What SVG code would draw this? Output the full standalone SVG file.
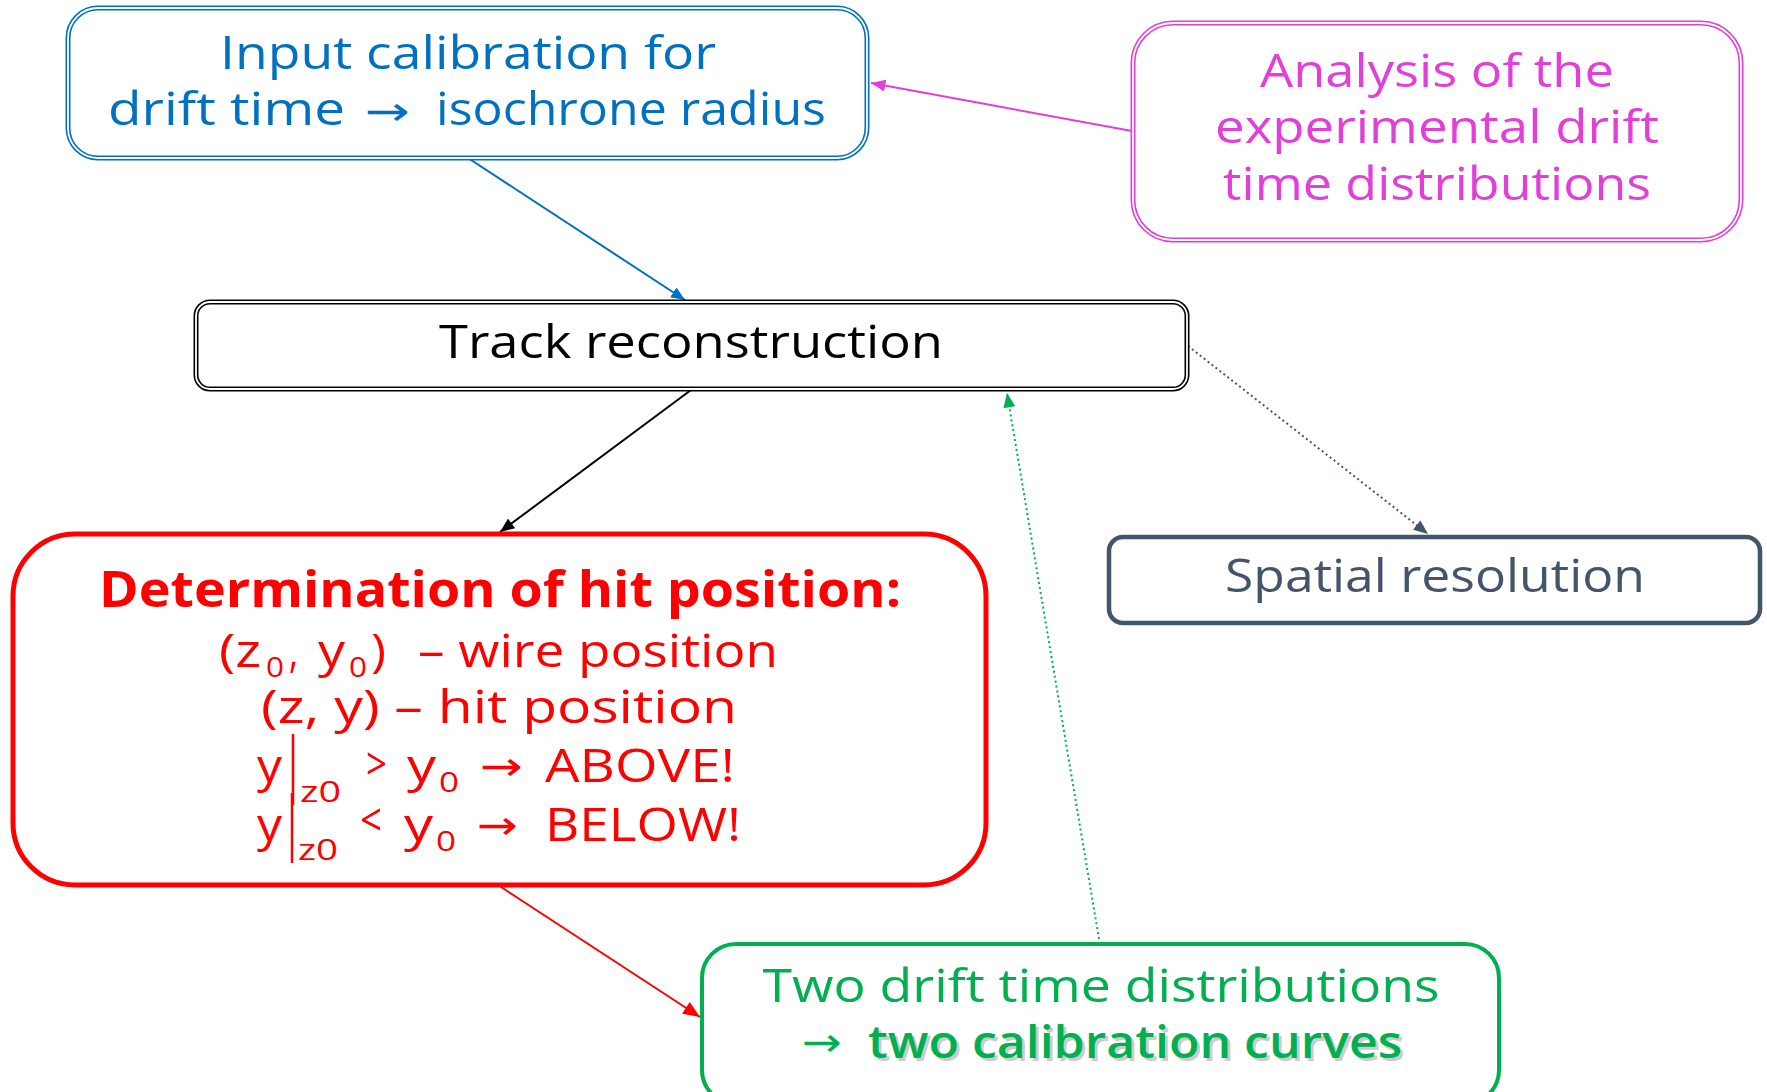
<svg xmlns="http://www.w3.org/2000/svg" width="1767" height="1092" viewBox="0 0 1767 1092">
  <style>
    text { font-family: "Open Sans", "Noto Sans", sans-serif; }
    .arr { font-family: "DejaVu Sans", sans-serif; }
    .blue { fill: #0070C0; }
    .mag { fill: #E23ED8; }
    .red { fill: #FF0000; }
    .green { fill: #00B050; }
    .slate { fill: #44546A; }
    .blk { fill: #000000; }
    .dblOuter { fill: #ffffff; stroke-width: 5; }
    .dblInner { fill: none; stroke: #ffffff; stroke-width: 1.8; }
    .conn { fill: none; stroke-width: 2; }
  </style>
  <defs>
    <marker id="ahBlue" viewBox="0 0 12 10" refX="12" refY="5" markerWidth="14" markerHeight="12" markerUnits="userSpaceOnUse" orient="auto">
      <path d="M0,0 L12,5 L0,10 Z" fill="#0070C0"/>
    </marker>
    <marker id="ahMag" viewBox="0 0 12 10" refX="12" refY="5" markerWidth="15" markerHeight="12" markerUnits="userSpaceOnUse" orient="auto">
      <path d="M0,0 L12,5 L0,10 Z" fill="#E23ED8"/>
    </marker>
    <marker id="ahBlk" viewBox="0 0 12 10" refX="12" refY="5" markerWidth="15" markerHeight="12" markerUnits="userSpaceOnUse" orient="auto">
      <path d="M0,0 L12,5 L0,10 Z" fill="#000000"/>
    </marker>
    <marker id="ahRed" viewBox="0 0 12 10" refX="12" refY="5" markerWidth="18" markerHeight="14" markerUnits="userSpaceOnUse" orient="auto">
      <path d="M0,0 L12,5 L0,10 Z" fill="#FF0000"/>
    </marker>
    <marker id="ahGreen" viewBox="0 0 12 10" refX="12" refY="5" markerWidth="15" markerHeight="12" markerUnits="userSpaceOnUse" orient="auto">
      <path d="M0,0 L12,5 L0,10 Z" fill="#00B050"/>
    </marker>
    <marker id="ahSlate" viewBox="0 0 12 10" refX="12" refY="5" markerWidth="15" markerHeight="12" markerUnits="userSpaceOnUse" orient="auto">
      <path d="M0,0 L12,5 L0,10 Z" fill="#44546A"/>
    </marker>
  </defs>

  <rect width="1767" height="1092" fill="#ffffff"/>

  <!-- connectors -->
  <g id="connectors">
    <line class="conn" x1="468" y1="158" x2="685" y2="300" stroke="#0070C0" marker-end="url(#ahBlue)"/>
    <line class="conn" x1="1132" y1="131" x2="871" y2="83" stroke="#E23ED8" marker-end="url(#ahMag)"/>
    <line class="conn" x1="691" y1="390" x2="500" y2="532" stroke="#000000" marker-end="url(#ahBlk)"/>
    <line class="conn" x1="501" y1="887" x2="700" y2="1017" stroke="#FF0000" stroke-width="2.4" marker-end="url(#ahRed)"/>
    <line class="conn" x1="1099" y1="939" x2="1007" y2="393" stroke="#00B050" stroke-dasharray="2 3" marker-end="url(#ahGreen)"/>
    <line class="conn" x1="1188" y1="346" x2="1428" y2="534" stroke="#44546A" stroke-dasharray="2 3" marker-end="url(#ahSlate)"/>
  </g>

  <!-- calibration input -->
  <g id="input-calibration">
    <rect class="dblOuter" x="68" y="8" width="799" height="150" rx="30" stroke="#0070C0"/>
    <rect class="dblInner" x="68" y="8" width="799" height="150" rx="30"/>
    <text class="blue" x="468" y="69" font-size="46" text-anchor="middle" textLength="496" lengthAdjust="spacingAndGlyphs">Input calibration for</text>
    <text class="blue" font-size="46">
      <tspan x="108" y="125" textLength="237" lengthAdjust="spacingAndGlyphs">drift time</tspan>
      <tspan class="arr" x="365" y="125" font-size="40" textLength="45" lengthAdjust="spacingAndGlyphs">→</tspan>
      <tspan x="436" y="125" textLength="390" lengthAdjust="spacingAndGlyphs">isochrone radius</tspan>
    </text>
  </g>

  <!-- drift time analysis -->
  <g id="analysis">
    <rect class="dblOuter" x="1133" y="23" width="608" height="217" rx="40" stroke="#E23ED8"/>
    <rect class="dblInner" x="1133" y="23" width="608" height="217" rx="40"/>
    <text class="mag" x="1437" y="87" font-size="45" text-anchor="middle" textLength="354" lengthAdjust="spacingAndGlyphs">Analysis of the</text>
    <text class="mag" x="1437" y="143" font-size="45" text-anchor="middle" textLength="444" lengthAdjust="spacingAndGlyphs">experimental drift</text>
    <text class="mag" x="1437" y="200" font-size="45" text-anchor="middle" textLength="428" lengthAdjust="spacingAndGlyphs">time distributions</text>
  </g>

  <!-- track reconstruction -->
  <g id="track-reconstruction">
    <rect class="dblOuter" x="196" y="302" width="991" height="87" rx="14" stroke="#000000"/>
    <rect class="dblInner" x="196" y="302" width="991" height="87" rx="14"/>
    <text class="blk" x="691" y="358" font-size="46" text-anchor="middle" textLength="504" lengthAdjust="spacingAndGlyphs">Track reconstruction</text>
  </g>

  <!-- hit position -->
  <g id="hit-position">
    <rect x="13" y="534" width="973" height="351" rx="62" fill="#ffffff" stroke="#FF0000" stroke-width="5"/>
    <text class="red" x="500" y="607" font-size="50" font-weight="bold" text-anchor="middle" textLength="802" lengthAdjust="spacingAndGlyphs">Determination of hit position:</text>

    <!-- wire position with subscripts -->
    <text class="red" font-size="46">
      <tspan x="219" y="667" textLength="42" lengthAdjust="spacingAndGlyphs">(z</tspan>
      <tspan x="266" y="677" font-size="28" textLength="18" lengthAdjust="spacingAndGlyphs">0</tspan>
      <tspan x="289" y="667" textLength="9" lengthAdjust="spacingAndGlyphs">,</tspan>
      <tspan x="318" y="667" textLength="27" lengthAdjust="spacingAndGlyphs">y</tspan>
      <tspan x="349" y="677" font-size="28" textLength="18" lengthAdjust="spacingAndGlyphs">0</tspan>
      <tspan x="371" y="667" textLength="15" lengthAdjust="spacingAndGlyphs">)</tspan>
      <tspan x="418" y="667" textLength="360" lengthAdjust="spacingAndGlyphs">– wire position</tspan>
    </text>

    <text class="red" x="499" y="723" font-size="46" text-anchor="middle" textLength="476" lengthAdjust="spacingAndGlyphs">(z, y) – hit position</text>

    <!-- above condition -->
    <line x1="293" y1="734" x2="293" y2="805" stroke="#FF0000" stroke-width="2.5"/>
    <text class="red" font-size="46">
      <tspan x="257" y="782" textLength="25" lengthAdjust="spacingAndGlyphs">y</tspan>
      <tspan x="300" y="802" font-size="30" textLength="41" lengthAdjust="spacingAndGlyphs">z0</tspan>
      <tspan x="366" y="780" textLength="21" lengthAdjust="spacingAndGlyphs">&gt;</tspan>
      <tspan x="407" y="782" textLength="29" lengthAdjust="spacingAndGlyphs">y</tspan>
      <tspan x="439" y="792" font-size="28" textLength="20" lengthAdjust="spacingAndGlyphs">0</tspan>
      <tspan class="arr" x="480" y="780" font-size="40" textLength="43" lengthAdjust="spacingAndGlyphs">→</tspan>
      <tspan x="545" y="782" textLength="190" lengthAdjust="spacingAndGlyphs">ABOVE!</tspan>
    </text>

    <!-- below condition -->
    <line x1="292" y1="793" x2="292" y2="863" stroke="#FF0000" stroke-width="2.5"/>
    <text class="red" font-size="46">
      <tspan x="257" y="841" textLength="25" lengthAdjust="spacingAndGlyphs">y</tspan>
      <tspan x="298" y="860" font-size="30" textLength="40" lengthAdjust="spacingAndGlyphs">z0</tspan>
      <tspan x="360" y="836" textLength="22" lengthAdjust="spacingAndGlyphs">&lt;</tspan>
      <tspan x="404" y="841" textLength="29" lengthAdjust="spacingAndGlyphs">y</tspan>
      <tspan x="436" y="851" font-size="28" textLength="20" lengthAdjust="spacingAndGlyphs">0</tspan>
      <tspan class="arr" x="477" y="839" font-size="40" textLength="41" lengthAdjust="spacingAndGlyphs">→</tspan>
      <tspan x="545" y="841" textLength="196" lengthAdjust="spacingAndGlyphs">BELOW!</tspan>
    </text>
  </g>

  <!-- spatial resolution -->
  <g id="spatial-resolution">
    <rect x="1109" y="537" width="651" height="86" rx="14" fill="#ffffff" stroke="#44546A" stroke-width="4.5"/>
    <text class="slate" x="1435" y="592" font-size="46" text-anchor="middle" textLength="420" lengthAdjust="spacingAndGlyphs">Spatial resolution</text>
  </g>

  <!-- calibration curves -->
  <g id="calibration-curves">
    <rect x="702" y="944" width="797" height="160" rx="34" fill="#ffffff" stroke="#00B050" stroke-width="4"/>
    <text class="green" x="1101" y="1002" font-size="45" text-anchor="middle" textLength="677" lengthAdjust="spacingAndGlyphs">Two drift time distributions</text>
    <text class="green arr" x="802" y="1056" font-size="40" textLength="40" lengthAdjust="spacingAndGlyphs">→</text>
    <text x="871" y="1061" font-size="45" font-weight="600" fill="#a0a0a0" fill-opacity="0.55" textLength="534" lengthAdjust="spacingAndGlyphs">two calibration curves</text>
    <text class="green" x="868" y="1058" font-size="45" font-weight="600" textLength="534" lengthAdjust="spacingAndGlyphs">two calibration curves</text>
  </g>
</svg>
